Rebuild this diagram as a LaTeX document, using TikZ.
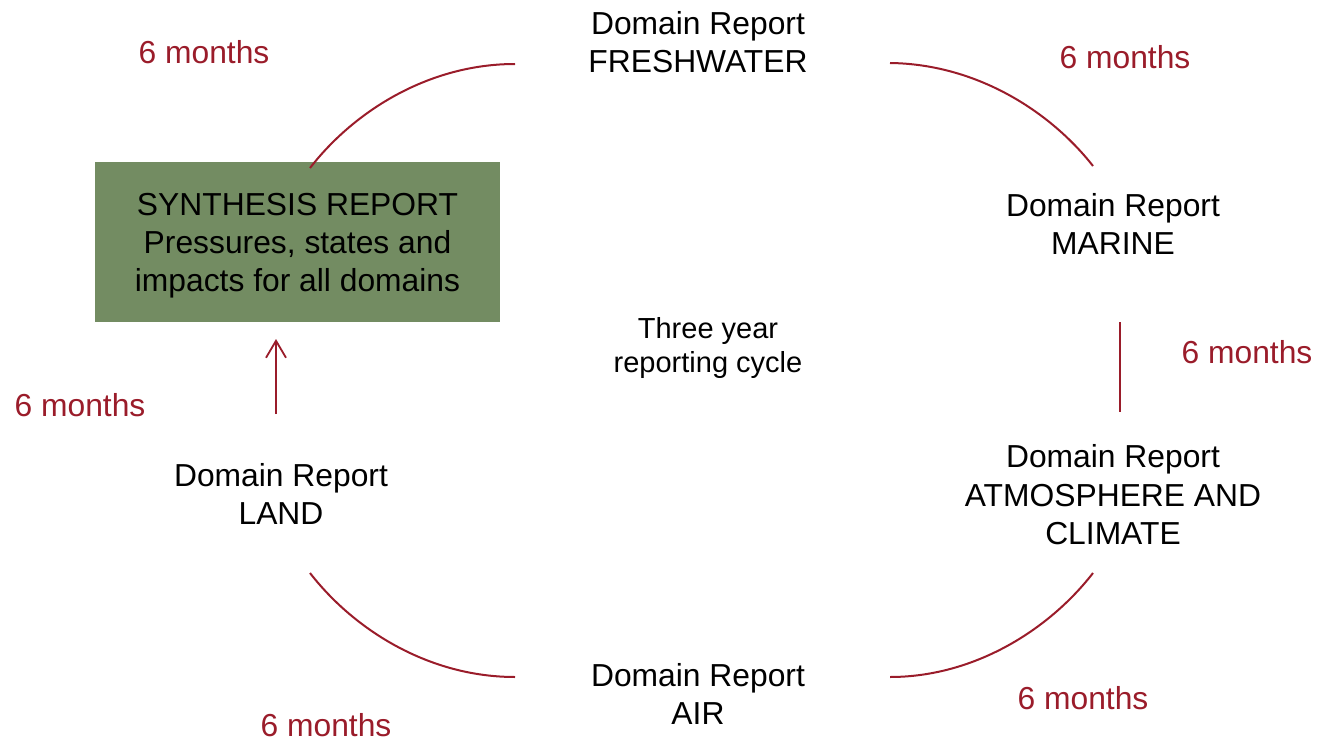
\documentclass[tikz,border=0pt]{standalone}
\usepackage{fontspec}
\setmainfont{Liberation Sans}
\usetikzlibrary{arrows.meta}
\definecolor{cycred}{HTML}{9A1C2A}
\definecolor{syngreen}{HTML}{738C62}
\tikzset{
  lbl/.style={align=center, inner sep=0pt, font=\fontsize{31.8}{38.5}\selectfont, text=black},
  small/.style={align=center, inner sep=0pt, font=\fontsize{29}{34.5}\selectfont, text=black},
  months/.style={inner sep=0pt, font=\fontsize{31.8}{38}\selectfont, text=cycred},
  link/.style={draw=cycred, line width=2pt},
  synbox/.style={fill=syngreen, minimum width=405pt, minimum height=160pt, align=center, inner sep=0pt, font=\fontsize{31.8}{38}\selectfont}
}
\begin{document}
\begin{tikzpicture}[x=1pt,y=-1pt]
\useasboundingbox (0,0) rectangle (1318,741);
% nodes
\node[fill=syngreen, minimum width=405pt, minimum height=160pt, inner sep=0pt] (syn) at (297.5,242) {};
\node[align=center, inner sep=0pt, font=\fontsize{31.8}{38}\selectfont] (syntext) at (297.5,246) {SYNTHESIS REPORT\\Pressures, states and\\impacts for all domains};
\node[lbl] (fresh) at (698,42) {Domain Report\\FRESHWATER};
\node[lbl] (marine) at (1113,224) {Domain Report\\MARINE};
\node[lbl] (atmo) at (1113,495) {Domain Report\\ATMOSPHERE AND\\CLIMATE};
\node[lbl] (air) at (698,694) {Domain Report\\AIR};
\node[lbl] (land) at (281,494) {Domain Report\\LAND};
\node[small] (cycle) at (708,348) {Three year\\reporting cycle};
% month labels
\node[months] (m1) at (204,52) {6 months};
\node[months] (m2) at (1125,57) {6 months};
\node[months] (m3) at (1247,352) {6 months};
\node[months] (m4) at (80,405) {6 months};
\node[months] (m5) at (1083,698) {6 months};
\node[months] (m6) at (326,725) {6 months};
% connector end points
\coordinate (tlA) at (310,168);
\coordinate (tlB) at (515,64);
\coordinate (trA) at (890,63);
\coordinate (trB) at (1093,166);
\coordinate (rA) at (1120,322);
\coordinate (rB) at (1120,412);
\coordinate (brA) at (1093,573);
\coordinate (brB) at (890,677);
\coordinate (blA) at (515,677);
\coordinate (blB) at (310,573);
\coordinate (arA) at (276,414);
\coordinate (arB) at (276,339);
% connectors
\draw[link] (tlA) .. controls (355,110) and (430,64) .. (tlB);
\draw[link] (trA) .. controls (975,64) and (1049,110) .. (trB);
\draw[link] (rA) -- (rB);
\draw[link] (brA) .. controls (1048,631) and (973,677) .. (brB);
\draw[link] (blA) .. controls (430,677) and (355,631) .. (blB);
\draw[draw=cycred, line width=1.8pt, -{Straight Barb[length=17pt,width=20pt,line width=1.8pt]}] (arA) -- (arB);
\end{tikzpicture}
\end{document}
